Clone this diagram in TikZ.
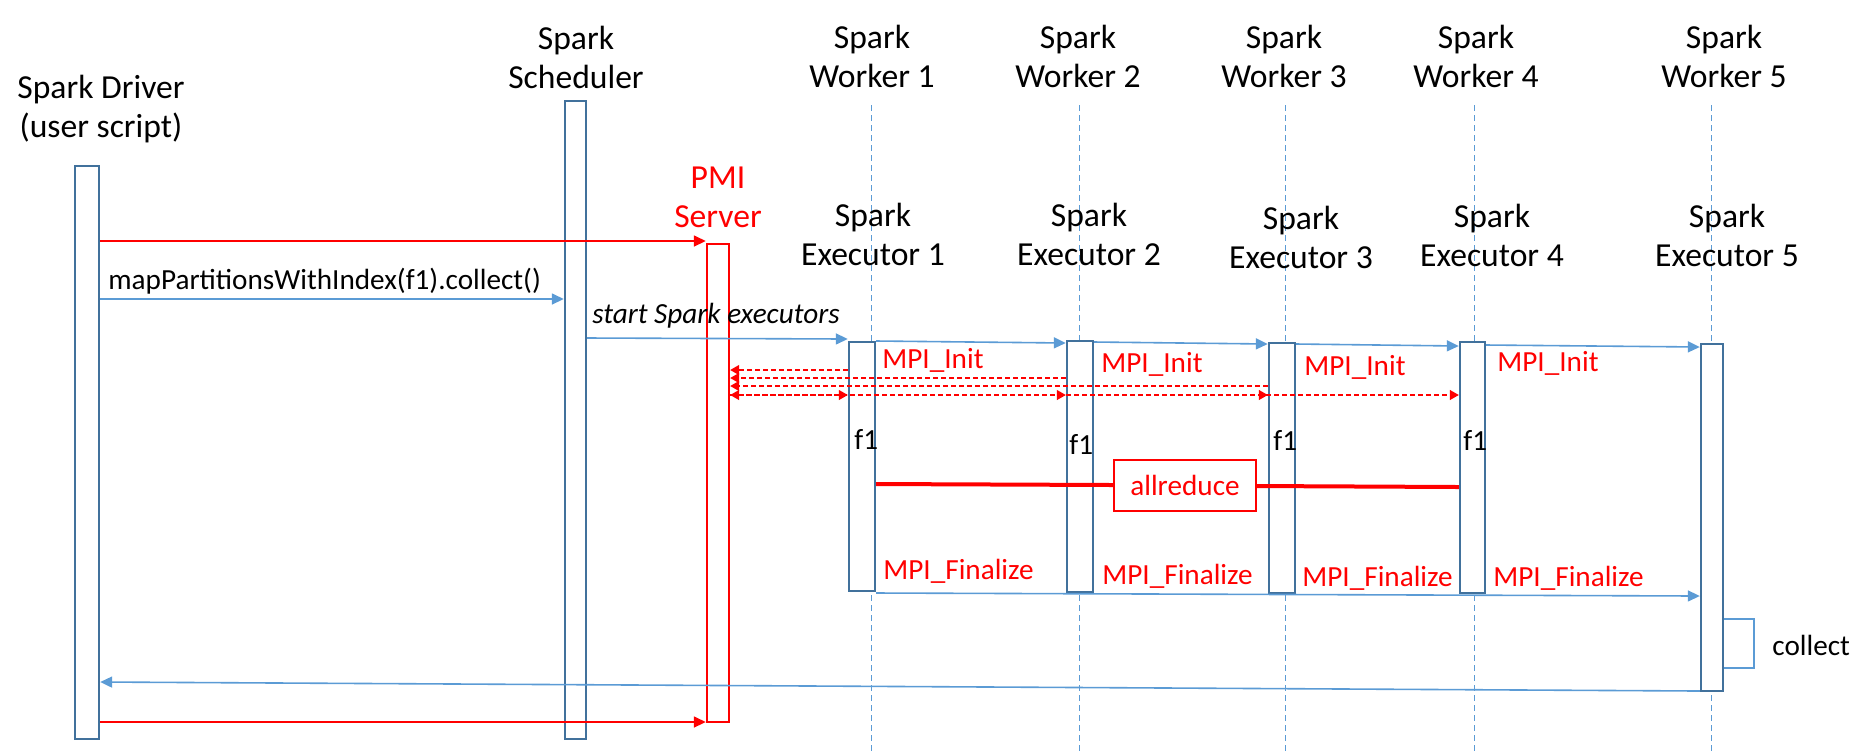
\documentclass[tikz,border=0pt]{standalone}
\usepackage{fontspec}
\setmainfont{Carlito}
\usetikzlibrary{arrows.meta,fit}
\pgfdeclarelayer{bg}
\pgfsetlayers{bg,main}
\definecolor{msgblue}{RGB}{91,155,213}
\definecolor{boxblue}{RGB}{65,113,156}

\tikzset{
        txt/.style={font=\fontsize{14.6}{19.5}\selectfont, inner sep=0pt},
        head/.style={font=\fontsize{16.8}{19.5}\selectfont, inner sep=0pt, align=center},
        act/.style={draw=boxblue, line width=1.2pt, fill=white, inner sep=0pt},
        msg/.style={draw=msgblue, line width=0.8pt, -{Triangle[length=6pt,width=5.5pt]}},
        rmsg/.style={draw=red, line width=0.8pt, -{Triangle[length=6pt,width=5.5pt]}},
        mpi/.style={draw=red, line width=0.6pt, dash pattern=on 2.5pt off 1.5pt, -{Triangle[length=4.5pt,width=5pt]}},
        life/.style={draw=msgblue, line width=0.5pt, dash pattern=on 3pt off 2pt},
}

\begin{document}
\begin{tikzpicture}[x=0.5pt, y=-0.5pt]
        \useasboundingbox (0,0) rectangle (1867,752);
        \node (hd) [head] at (101,109) {Spark Driver\\(user script)};
        \node (hs) [head] at (576,57) {Spark\\Scheduler};
        \node (hp) [head, text=red] at (718,197) {PMI\\Server};
        \node (w1) [head] at (872,56) {Spark\\Worker 1};
        \node (w2) [head] at (1078,56) {Spark\\Worker 2};
        \node (w3) [head] at (1284,56) {Spark\\Worker 3};
        \node (w4) [head] at (1476,56) {Spark\\Worker 4};
        \node (w5) [head] at (1724,56) {Spark\\Worker 5};
        \node (e1) [head] at (873,234) {Spark\\Executor 1};
        \node (e2) [head] at (1089,234) {Spark\\Executor 2};
        \node (e3) [head] at (1301,237) {Spark\\Executor 3};
        \node (e4) [head] at (1492,235) {Spark\\Executor 4};
        \node (e5) [head] at (1727,235) {Spark\\Executor 5};
        \begin{pgfonlayer}{bg}
                \draw [life] (871,105) -- (871,751);
                \draw [life] (1079,105) -- (1079,751);
                \draw [life] (1285,105) -- (1285,751);
                \draw [life] (1474,105) -- (1474,751);
                \draw [life] (1711,105) -- (1711,751);
        \end{pgfonlayer}
        \node (drv) [act, fit={(75,166) (99,739)}] {};
        \node (sch) [act, fit={(565,101) (586,739)}] {};
        \node (pmi) [act, draw=red, fit={(707,244) (729,722)}] {};
        \node (x1) [act, fit={(849,342) (875,591)}] {};
        \node (x2) [act, fit={(1067,341) (1093,592)}] {};
        \node (x3) [act, fit={(1269,343) (1295,593)}] {};
        \node (x4) [act, fit={(1460,342) (1485,593)}] {};
        \node (x5) [act, fit={(1701,344) (1723,691)}] {};
        \node (lm) [txt, anchor=west] at (108,281) {mapPartitionsWithIndex(f1).collect()};
        \node (ls) [txt, anchor=west] at (592,316) {\itshape start Spark executors};
        \node (i1) [txt, text=red, anchor=west] at (882,360) {MPI\_Init};
        \node (i2) [txt, text=red, anchor=west] at (1101,364) {MPI\_Init};
        \node (i3) [txt, text=red, anchor=west] at (1304,367) {MPI\_Init};
        \node (i4) [txt, text=red, anchor=west] at (1497,363) {MPI\_Init};
        \node (f1) [txt, anchor=west] at (854,439) {f1};
        \node (f2) [txt, anchor=west] at (1069,444) {f1};
        \node (f3) [txt, anchor=west] at (1273,440) {f1};
        \node (f4) [txt, anchor=west] at (1463,440) {f1};
        \node (ar) [txt, draw=red, text=red, line width=1pt, fill=white, minimum width=71pt, minimum height=25.5pt] at (1185,485.5) {allreduce};
        \node (n1) [txt, text=red, anchor=west] at (883,571) {MPI\_Finalize};
        \node (n2) [txt, text=red, anchor=west] at (1102,576) {MPI\_Finalize};
        \node (n3) [txt, text=red, anchor=west] at (1302,578) {MPI\_Finalize};
        \node (n4) [txt, text=red, anchor=west] at (1493,578) {MPI\_Finalize};
        \node (lc) [txt, anchor=west] at (1772,645) {collect};
        \draw [rmsg] (drv.east |- 0,241) -- (pmi.west |- 0,241);
        \draw [msg] (drv.east |- 0,299) -- (sch.west |- 0,299);
        \draw [msg] (sch.east |- 0,338) -- (x1.west |- 0,339);
        \draw [msg] (x1.east |- 0,341) -- (x2.west |- 0,343);
        \draw [msg] (x2.east |- 0,342) -- (x3.west |- 0,344);
        \draw [msg] (x3.east |- 0,344) -- (x4.west |- 0,346);
        \draw [msg] (x4.east |- 0,345) -- (x5.west |- 0,347);
        \draw [mpi] (x1.west |- 0,370) -- (pmi.east |- 0,370);
        \draw [mpi] (x2.west |- 0,378) -- (pmi.east |- 0,378);
        \draw [mpi] (x3.west |- 0,386) -- (pmi.east |- 0,386);
        \draw [mpi, {Triangle[length=4.5pt,width=5pt]}-{Triangle[length=4.5pt,width=5pt]}] (pmi.east |- 0,395) -- (x1.west |- 0,395);
        \draw [mpi] (pmi.east |- 0,395) -- (x2.west |- 0,395);
        \draw [mpi] (pmi.east |- 0,395) -- (x3.west |- 0,395);
        \draw [mpi] (pmi.east |- 0,395) -- (x4.west |- 0,395);
        \draw [draw=red, line width=2pt] (x1.east |- 0,484) -- (ar.west |- 0,485);
        \draw [draw=red, line width=2pt] (ar.east |- 0,486) -- (x4.west |- 0,487);
        \draw [msg] (x1.east |- 0,593) -- (x5.west |- 0,596);
        \draw [draw=msgblue, line width=0.8pt] (x5.east |- 0,619) -- ++(30,0) |- (x5.east |- 0,668);
        \draw [msg] (x5.west |- 0,691) -- (drv.east |- 0,682);
        \draw [rmsg] (drv.east |- 0,722) -- (pmi.west |- 0,722);
\end{tikzpicture}
\end{document}
